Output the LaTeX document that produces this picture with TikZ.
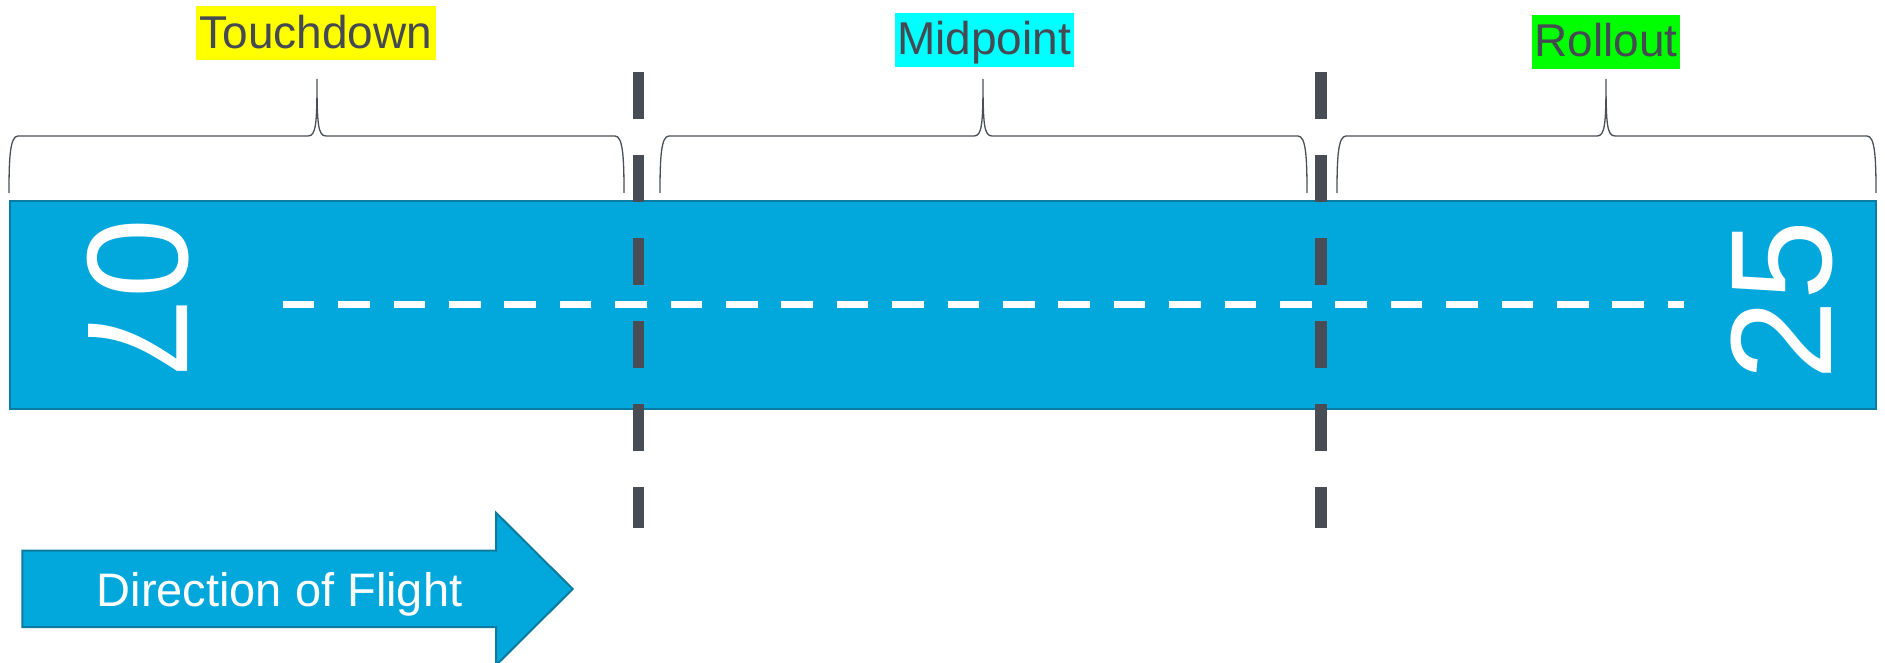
\documentclass[tikz,border=0pt]{standalone}
\usepackage{fontspec}
\setmainfont{Liberation Sans}
\definecolor{rwblue}{HTML}{02A7DC}
\definecolor{rwedge}{HTML}{0B7C9F}
\definecolor{markgray}{HTML}{474C55}
\definecolor{txtgray}{HTML}{454A52}
\definecolor{bracegray}{HTML}{4A4F57}
\definecolor{lblyellow}{HTML}{FFFF00}
\definecolor{lblcyan}{HTML}{00FFFF}
\definecolor{lblgreen}{HTML}{00FF00}
\newcommand{\drawbrc}[3]{%
  \draw[bracestyle] (#1,193) .. controls (#1,158) and (#1+1,136) .. (#1+9,136)
    -- (#2-9,136) .. controls (#2-1,136) and (#2,124) .. (#2,79)
    .. controls (#2,124) and (#2+1,136) .. (#2+9,136)
    -- (#3-9,136) .. controls (#3-1,136) and (#3,158) .. (#3,193);}
\begin{document}
\begin{tikzpicture}[x=1pt,y=-1pt,
  bracestyle/.style={draw=bracegray,line width=1.3pt},
  lbl/.style={text=txtgray,font=\fontsize{46}{50}\selectfont,
    inner xsep=1pt,inner ysep=1pt,text height=41pt,text depth=11pt},
  rwnum/.style={text=white,font=\fontsize{144}{144}\selectfont,inner sep=0pt},
  rwbox/.style={draw=rwedge,line width=2pt,fill=rwblue,inner sep=0pt,
    minimum width=1866pt,minimum height=208pt},
  threshold/.style={draw=markgray,line width=11.7pt,dash pattern=on 47.3pt off 35.8pt},
  centreline/.style={draw=white,line width=7.3pt,dash pattern=on 31.5pt off 23.9pt},
  flightarrow/.style={draw=rwedge,line width=2pt,fill=rwblue},
  arrowtext/.style={text=white,font=\fontsize{47}{50}\selectfont,inner sep=0pt}]
\useasboundingbox (0,0) rectangle (1885,663);
\fill[white] (0,0) rectangle (1885,663);
% runway
\node[rwbox] (rw) at (942.5,305) {};
\coordinate (cl0) at (282.8,304.7);
\coordinate (cl1) at (1684,304.7);
\draw[centreline] (cl0) -- (cl1);
\node[rwnum,rotate=-90] (n07) at (138,299) {07};
\node[rwnum,rotate=90] (n25) at (1782,300) {25};
% thresholds
\coordinate (t1a) at (638.5,71.7);
\coordinate (t1b) at (638.5,527.7);
\coordinate (t2a) at (1321,71.7);
\coordinate (t2b) at (1321,527.7);
\draw[threshold] (t1a) -- (t1b);
\draw[threshold] (t2a) -- (t2b);
% braces
\drawbrc{9}{317}{624}
\drawbrc{660}{983}{1307}
\drawbrc{1337}{1606}{1876}
% labels
\node[lbl,fill=lblyellow,minimum width=240pt] (td) at (316,33.5) {Touchdown};
\node[lbl,fill=lblcyan,minimum width=179pt] (mp) at (984,40) {Midpoint};
\node[lbl,fill=lblgreen,minimum width=148pt] (ro) at (1606,42) {Rollout};
% direction arrow
\draw[flightarrow] (22.3,550.7) -- (496,550.7) -- (496,512.7) -- (572.7,589)
  -- (496,665.3) -- (496,627) -- (22.3,627) -- cycle;
\node[arrowtext,anchor=base] (dof) at (279.5,606.7) {Direction of Flight};
\end{tikzpicture}
\end{document}
